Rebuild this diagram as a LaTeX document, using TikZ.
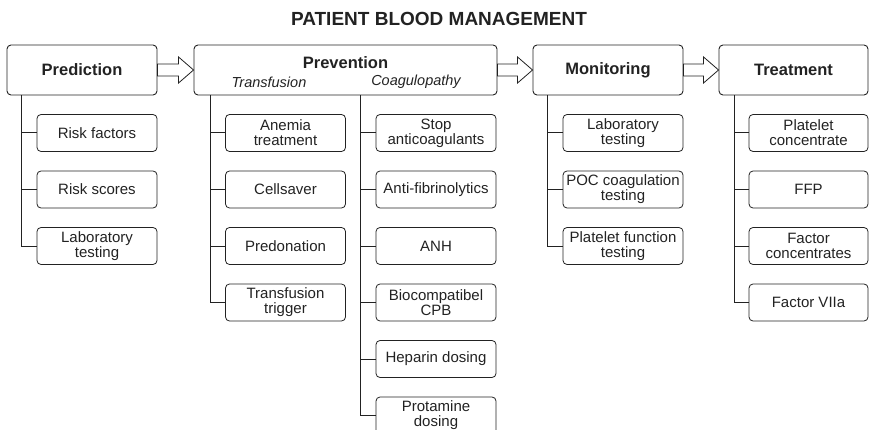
\documentclass[tikz,border=0pt]{standalone}
\usepackage{fontspec}
\setmainfont{Liberation Sans}
\usetikzlibrary{calc,positioning}
\definecolor{ink}{HTML}{222222}
\tikzset{
  head/.style={draw=ink, line width=0.9pt, rounded corners=4pt, minimum width=150pt,
    minimum height=50pt, inner sep=0pt, font=\fontsize{16.5}{18}\selectfont\bfseries, text=ink},
  item/.style={draw=ink, line width=0.8pt, rounded corners=4pt, minimum width=120pt,
    minimum height=37pt, inner sep=0pt, align=center, font=\fontsize{15}{15}\selectfont, text=ink},
  link/.style={draw=ink, line width=1pt},
  hollow/.style={draw=ink, line width=0.8pt, fill=white, line join=miter},
}

\begin{document}
\begin{tikzpicture}[x=1pt, y=-1pt]
\useasboundingbox (0,0) rectangle (869,430);

\node[font=\fontsize{19}{20}\selectfont\bfseries, text=ink] (title) at (439,19) {PATIENT BLOOD MANAGEMENT};

% the four stages
\node[head] (pred) at (82,70) {Prediction};
\node[head, minimum width=303pt] (prev) at (345.5,70) {};
\node[head] (moni) at (608,70) {Monitoring};
\node[head, minimum width=149pt] (treat) at (793.5,70) {Treatment};

\node[font=\fontsize{16.5}{18}\selectfont\bfseries, text=ink] (prevlbl) at (345.5,63) {Prevention};
\node[font=\fontsize{14.5}{15}\selectfont\itshape, text=ink] (transl) at (269,82) {Transfusion};
\node[font=\fontsize{14.5}{15}\selectfont\itshape, text=ink] (coagl) at (416,82) {Coagulopathy};

% hollow arrows between stages
\foreach \a/\b in {pred/prev, prev/moni, moni/treat}
  \draw[hollow] ($(\a.east)+(0,-6)$) -- ($(\b.west)+(-15,-6)$) -- ($(\b.west)+(-15,-13)$)
    -- (\b.west) -- ($(\b.west)+(-15,13)$) -- ($(\b.west)+(-15,6)$) -- ($(\a.east)+(0,6)$) -- cycle;

% items
\foreach [count=\i] \t in {Risk factors, Risk scores, {Laboratory\\testing}}
  \node[item] (pred\i) at (97,{76.5+56.5*\i}) {\t};
\foreach [count=\i] \t in {{Anemia\\treatment}, Cellsaver, Predonation, {Transfusion\\trigger}}
  \node[item] (tra\i) at (285.5,{76.5+56.5*\i}) {\t};
\foreach [count=\i] \t in {{Stop\\anticoagulants}, Anti-fibrinolytics, ANH, {Biocompatibel\\CPB},
    Heparin dosing, {Protamine\\dosing}}
  \node[item] (coa\i) at (436,{76.5+56.5*\i}) {\t};
\foreach [count=\i] \t in {{Laboratory\\testing}, {POC coagulation\\testing}, {Platelet function\\testing}}
  \node[item] (mon\i) at (623,{76.5+56.5*\i}) {\t};
\foreach [count=\i] \t in {{Platelet\\concentrate}, FFP, {Factor\\concentrates}, Factor VIIa}
  \node[item, minimum width=119pt] (tre\i) at (808.5,{76.5+56.5*\i}) {\t};

% trunks
\coordinate (pred-tr) at ([xshift=15pt]pred.south west);
\coordinate (tra-tr) at ([xshift=17pt]prev.south west);
\coordinate (coa-tr) at ([xshift=167pt]prev.south west);
\coordinate (mon-tr) at ([xshift=15pt]moni.south west);
\coordinate (tre-tr) at ([xshift=16pt]treat.south west);

\foreach \n/\k in {pred/3, tra/4, coa/6, mon/3, tre/4} {
  \draw[link] (\n-tr) |- (\n\k.west);
  \foreach \i in {1,...,\k}
    \draw[link] (\n-tr |- \n\i.west) -- (\n\i.west);
}

\end{tikzpicture}
\end{document}
